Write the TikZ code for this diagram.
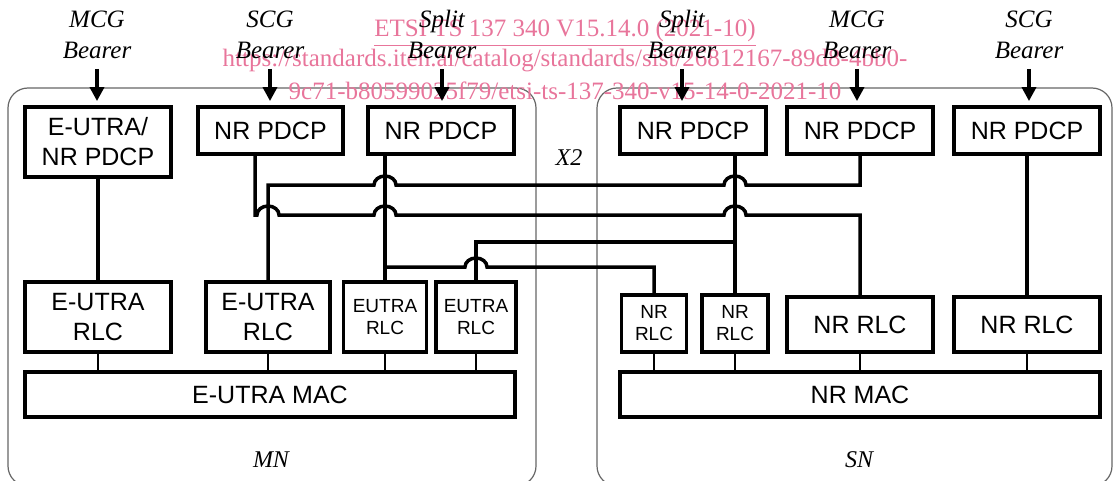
\documentclass[tikz,border=0pt]{standalone}
\usepackage{fontspec}
\setmainfont{Liberation Serif}
\setsansfont{Liberation Sans}
\usetikzlibrary{arrows.meta}
\definecolor{wmpink}{RGB}{232,117,155}

\begin{document}
\begin{tikzpicture}[
    x=0.5pt, y=-0.5pt,
    every node/.style={font=\sffamily\fontsize{12.5}{15}\selectfont},
    blk/.style={rectangle, draw, line width=1.9pt, align=center, inner sep=0pt},
    pdcp/.style={blk, minimum width=73pt, minimum height=23.5pt},
    sblk/.style={blk, font=\sffamily\fontsize{9.5}{11}\selectfont},
    conn/.style={line width=1.75pt},
    lnk/.style={line width=0.8pt},
    arr/.style={-{Triangle[length=7pt, width=7pt]}, line width=1.75pt, shorten >=2pt},
    brr/.style={font=\itshape\fontsize{12.5}{15.5}\selectfont, align=center, inner sep=5pt},
    grp/.style={draw=black!60, line width=0.6pt, rounded corners=10pt},
    lbl/.style={font=\itshape\fontsize{12}{14}\selectfont},
    wm/.style={text=wmpink, font=\fontsize{12.5}{15}\selectfont, anchor=base, inner sep=0pt},
    hop/.style={}
]
    \useasboundingbox (0,0) rectangle (1114,481);
    % MN and SN frames
    \draw[grp] (8,88) rectangle (536,486);
    \draw[grp] (597,88) rectangle (1112,486);

    % watermark
    \node[wm] (wm1) at (565,37) {\underline{ETSI TS 137 340 V15.14.0 (2021-10)}};
    \node[wm] (wm2) at (565,67) {https://standards.iteh.ai/catalog/standards/sist/26812167-89d8-4bb0-};
    \node[wm] (wm3) at (565,100) {9c71-b80599025f79/etsi-ts-137-340-v15-14-0-2021-10};

    % PDCP
    \node[blk, minimum width=73pt, minimum height=35pt] (pdcpA) at (98,142) {E-UTRA/\\NR PDCP};
    \node[pdcp, minimum width=72.5pt] (pdcpB) at (270.5,130.5) {NR PDCP};
    \node[pdcp] (pdcpC) at (441,130.5) {NR PDCP};
    \node[pdcp] (pdcpD) at (693,130.5) {NR PDCP};
    \node[pdcp] (pdcpE) at (860,130.5) {NR PDCP};
    \node[pdcp] (pdcpF) at (1027,130.5) {NR PDCP};

    % RLC
    \node[blk, minimum width=73pt, minimum height=35pt] (rlcA) at (98,317) {E-UTRA\\RLC};
    \node[blk, minimum width=62pt, minimum height=35pt] (rlcB) at (268,317) {E-UTRA\\RLC};
    \node[sblk, minimum width=41.5pt, minimum height=35pt] (rlcC) at (385,317) {EUTRA\\RLC};
    \node[sblk, minimum width=40pt, minimum height=35pt] (rlcD) at (476,317) {EUTRA\\RLC};
    \node[sblk, minimum width=32.5pt, minimum height=28.5pt] (rlcE) at (654,323.5) {NR\\RLC};
    \node[sblk, minimum width=33pt, minimum height=28.5pt] (rlcF) at (735,323.5) {NR\\RLC};
    \node[blk, minimum width=73pt, minimum height=27.5pt] (rlcG) at (860,324.5) {NR RLC};
    \node[blk, minimum width=73pt, minimum height=27.5pt] (rlcH) at (1027,324.5) {NR RLC};

    % MAC
    \node[blk, minimum width=245pt, minimum height=22.5pt] (macM) at (270,394.5) {E-UTRA MAC};
    \node[blk, minimum width=240pt, minimum height=22.5pt] (macS) at (860,394.5) {NR MAC};

    % bearers
    \node[brr] (lbA) at (97,34.5) {MCG\\Bearer};
    \node[brr] (lbB) at (270,34.5) {SCG\\Bearer};
    \node[brr] (lbC) at (442,34.5) {Split\\Bearer};
    \node[brr] (lbD) at (682,34.5) {Split\\Bearer};
    \node[brr] (lbE) at (857,34.5) {MCG\\Bearer};
    \node[brr] (lbF) at (1029,34.5) {SCG\\Bearer};

    \node[lbl] (x2) at (569,158) {X2};
    \node[lbl] (mn) at (271,460) {MN};
    \node[lbl] (sn) at (859,460) {SN};

    \draw[arr] (lbA.south) -- (lbA.south |- pdcpA.north);
    \draw[arr] (lbB.south) -- (lbB.south |- pdcpB.north);
    \draw[arr] (lbC.south) -- (lbC.south |- pdcpC.north);
    \draw[arr] (lbD.south) -- (lbD.south |- pdcpD.north);
    \draw[arr] (lbE.south) -- (lbE.south |- pdcpE.north);
    \draw[arr] (lbF.south) -- (lbF.south |- pdcpF.north);

    % PDCP to RLC
    \draw[conn] (pdcpA) -- (rlcA);
    \draw[conn] (pdcpF) -- (rlcH);
    \draw[conn] ([xshift=-28pt]pdcpC.south) -- (rlcC.north);
    \draw[conn] ([xshift=21pt]pdcpD.south) -- (rlcF.north);
    \draw[conn] ([xshift=-7.75pt]pdcpB.south) |- (257,215)
        arc[start angle=180, end angle=0, x radius=5.5pt, y radius=4.5pt] -- (374,215)
        arc[start angle=180, end angle=0, x radius=5.5pt, y radius=4.5pt] -- (724,215)
        arc[start angle=180, end angle=0, x radius=5.5pt, y radius=4.5pt] -| (rlcG.north);
    \draw[conn] (rlcB.north) |- (374,185)
        arc[start angle=180, end angle=0, x radius=5.5pt, y radius=4.5pt] -- (724,185)
        arc[start angle=180, end angle=0, x radius=5.5pt, y radius=4.5pt] -| (pdcpE.south);
    \coordinate (brM) at (385,267);
    \coordinate (brS) at (735,242);
    \draw[conn] (brM) -- (465,267)
        arc[start angle=180, end angle=0, x radius=5.5pt, y radius=4.5pt] -| (rlcE.north);
    \draw[conn] (brS) -| (rlcD.north);

    % RLC to MAC
    \foreach \r/\m in {rlcA/macM, rlcB/macM, rlcC/macM, rlcD/macM,
                       rlcE/macS, rlcF/macS, rlcG/macS, rlcH/macS}
        \draw[lnk] (\r.south) -- (\r.south |- \m.north);
\end{tikzpicture}
\end{document}
